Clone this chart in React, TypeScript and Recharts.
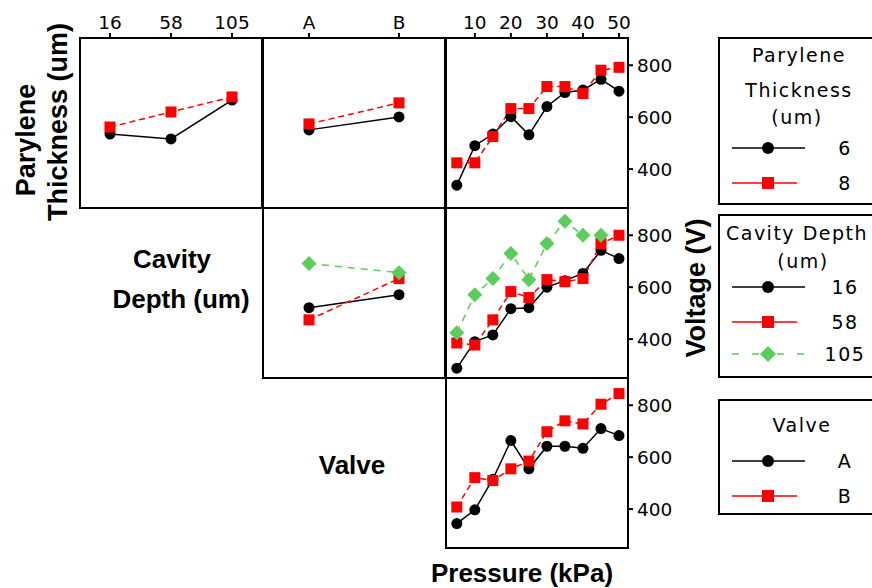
import React from 'react'
import { LineChart, Line, XAxis, YAxis } from 'recharts'

const depthLevels = ['16', '58', '105']
const valveLevels = ['A', 'B']
const pressureLevels = [5, 10, 15, 20, 25, 30, 35, 40, 45, 50]
const pressureTicks = [10, 20, 30, 40, 50]
const voltageTicks = [400, 600, 800]

// parylene thickness 6 / 8 um
const thick6VsDepth = [535, 516, 666]
const thick8VsDepth = [562, 620, 678]
const thick6VsValve = [551, 601]
const thick8VsValve = [574, 655]
const thick6VsPressure = [338, 490, 535, 602, 532, 641, 695, 705, 746, 700]
const thick8VsPressure = [424, 424, 525, 633, 633, 718, 718, 691, 781, 792]

// cavity depth 16 / 58 / 105 um
const depth16VsValve = [521, 571]
const depth58VsValve = [474, 633]
const depth105VsValve = [691, 656]
const depth16VsPressure = [288, 390, 416, 517, 521, 600, 625, 653, 742, 710]
const depth58VsPressure = [385, 377, 474, 583, 560, 629, 621, 633, 768, 800]
const depth105VsPressure = [424, 571, 633, 730, 629, 768, 854, 800, 800, null]

// valve A / B
const valveAVsPressure = [344, 397, 515, 664, 555, 642, 642, 634, 710, 683]
const valveBVsPressure = [408, 521, 510, 555, 585, 698, 740, 728, 804, 845]

const COLX = [80, 263, 446]
const ROWY = [38, 208, 378]
const PW = 182
const PH = 170
const RED = '#ff0000'
const GREEN = '#5ccc5c'
const tickFont = { fontFamily: 'DejaVu Sans', fontSize: 18.5, fill: '#000' }
const boldFont = 'Liberation Sans'

function rows(keys: (string | number)[], series: Record<string, (number | null)[]>) {
  return keys.map((k, i) => {
    const row: any = { k }
    Object.keys(series).forEach((name) => {
      row[name] = series[name][i]
    })
    return row
  })
}

const circleDot = (p: any) =>
  p.cx == null || p.cy == null || p.value == null ? (
    <g key={`c${p.index}`} />
  ) : (
    <circle key={`c${p.index}`} cx={p.cx} cy={p.cy} r={5.5} fill="#000" />
  )

const squareDot = (p: any) =>
  p.cx == null || p.cy == null || p.value == null ? (
    <g key={`s${p.index}`} />
  ) : (
    <rect key={`s${p.index}`} x={p.cx - 5.5} y={p.cy - 5.5} width={11} height={11} fill={RED} />
  )

const diamondDot = (p: any) =>
  p.cx == null || p.cy == null || p.value == null ? (
    <g key={`d${p.index}`} />
  ) : (
    <path
      key={`d${p.index}`}
      d={`M${p.cx},${p.cy - 7.5}L${p.cx + 7.5},${p.cy}L${p.cx},${p.cy + 7.5}L${p.cx - 7.5},${p.cy}Z`}
      fill={GREEN}
    />
  )

const lineStyles: Record<string, any> = {
  black: { stroke: '#000', dot: circleDot },
  red: { stroke: RED, dot: squareDot, strokeDasharray: '6 4' },
  green: { stroke: GREEN, dot: diamondDot, strokeDasharray: '7 6' },
}

type Kind = 'depth' | 'valve' | 'pressure'

function Panel({
  col,
  row,
  kind,
  data,
  series,
  showTop,
  showRight,
}: {
  col: number
  row: number
  kind: Kind
  data: any[]
  series: string[]
  showTop?: boolean
  showRight?: boolean
}) {
  const w = PW + (showRight ? 60 : 0)
  const h = PH + (showTop ? 30 : 0)
  const padding =
    kind === 'depth' ? { left: 30, right: 30 } : kind === 'valve' ? { left: 46, right: 46 } : { left: 0, right: 0 }
  return (
    <>
      <div
        style={{
          position: 'absolute',
          left: COLX[col] - 1,
          top: ROWY[row] - 1,
          width: PW + 2,
          height: PH + 2,
          border: '2px solid #000',
          boxSizing: 'border-box',
        }}
      />
      <div style={{ position: 'absolute', left: COLX[col], top: ROWY[row] - (showTop ? 30 : 0) }}>
        <LineChart width={w} height={h} data={data} margin={{ top: 0, right: 0, bottom: 0, left: 0 }}>
          <XAxis
            dataKey="k"
            type={kind === 'pressure' ? 'number' : 'category'}
            domain={kind === 'pressure' ? [2, 52.5] : undefined}
            ticks={kind === 'pressure' ? pressureTicks : undefined}
            allowDataOverflow={kind === 'pressure'}
            padding={padding}
            orientation="top"
            hide={!showTop}
            height={30}
            axisLine={false}
            tickLine={{ stroke: '#000', strokeWidth: 2 }}
            tickSize={5}
            tickMargin={4}
            interval={0}
            tick={tickFont}
          />
          <YAxis
            type="number"
            domain={[250, 905]}
            allowDataOverflow
            orientation="right"
            hide={!showRight}
            width={60}
            ticks={voltageTicks}
            axisLine={false}
            tickLine={{ stroke: '#000', strokeWidth: 2 }}
            tickSize={5}
            tickMargin={4}
            interval={0}
            tick={tickFont}
          />
          {series.map((name) => {
            const st = lineStyles[name]
            return (
              <Line
                key={name}
                dataKey={name}
                type="linear"
                stroke={st.stroke}
                strokeWidth={1.5}
                strokeDasharray={st.strokeDasharray}
                dot={st.dot}
                activeDot={false}
                isAnimationActive={false}
              />
            )
          })}
        </LineChart>
      </div>
    </>
  )
}

function LegendEntry({ y, style, label }: { y: number; style: string; label: string }) {
  let line = null
  let marker = null
  if (style === 'black') {
    line = <line x1={732} x2={805} y1={y} y2={y} stroke="#000" strokeWidth={1.5} />
    marker = <circle cx={768} cy={y} r={6} fill="#000" />
  } else if (style === 'red') {
    line = <line x1={732} x2={797} y1={y} y2={y} stroke={RED} strokeWidth={1.5} />
    marker = <rect x={762} y={y - 6} width={12} height={12} fill={RED} />
  } else {
    line = (
      <path
        d={`M732,${y}H739M752,${y}H759M777,${y}H784M797,${y}H804`}
        stroke={GREEN}
        strokeWidth={1.5}
      />
    )
    marker = <path d={`M768,${y - 8}L776,${y}L768,${y + 8}L760,${y}Z`} fill={GREEN} />
  }
  return (
    <g>
      {line}
      {marker}
      <text x={845} y={y + 6.5} textAnchor="middle" fontFamily="DejaVu Sans" fontSize={19} letterSpacing={1.5}>
        {label}
      </text>
    </g>
  )
}

function LegendTitle({ x, y, text }: { x: number; y: number; text: string }) {
  return (
    <text x={x} y={y} textAnchor="middle" fontFamily="DejaVu Sans" fontSize={19} letterSpacing={1.5}>
      {text}
    </text>
  )
}

export default function App() {
  const thickDepth = rows(depthLevels, { black: thick6VsDepth, red: thick8VsDepth })
  const thickValve = rows(valveLevels, { black: thick6VsValve, red: thick8VsValve })
  const thickPressure = rows(pressureLevels, { black: thick6VsPressure, red: thick8VsPressure })
  const depthValve = rows(valveLevels, { black: depth16VsValve, red: depth58VsValve, green: depth105VsValve })
  const depthPressure = rows(pressureLevels, {
    black: depth16VsPressure,
    red: depth58VsPressure,
    green: depth105VsPressure,
  })
  const valvePressure = rows(pressureLevels, { black: valveAVsPressure, red: valveBVsPressure })

  return (
    <div
      style={{
        position: 'absolute',
        left: 0,
        top: 0,
        width: 872,
        height: 588,
        overflow: 'hidden',
        background: '#fff',
      }}
    >
      <Panel col={0} row={0} kind="depth" data={thickDepth} series={['black', 'red']} showTop />
      <Panel col={1} row={0} kind="valve" data={thickValve} series={['black', 'red']} showTop />
      <Panel col={2} row={0} kind="pressure" data={thickPressure} series={['black', 'red']} showTop showRight />
      <Panel col={1} row={1} kind="valve" data={depthValve} series={['black', 'red', 'green']} />
      <Panel col={2} row={1} kind="pressure" data={depthPressure} series={['black', 'red', 'green']} showRight />
      <Panel col={2} row={2} kind="pressure" data={valvePressure} series={['black', 'red']} showRight />

      <svg
        width={872}
        height={588}
        style={{ position: 'absolute', left: 0, top: 0, pointerEvents: 'none' }}
      >
        <g fontFamily={boldFont} fontWeight="bold" fill="#000">
          <text x={35} y={140} transform="rotate(-90 35 140)" textAnchor="middle" fontSize={27}>
            Parylene
          </text>
          <text x={67} y={122} transform="rotate(-90 67 122)" textAnchor="middle" fontSize={27}>
            Thickness (um)
          </text>
          <text x={705} y={288} transform="rotate(-90 705 288)" textAnchor="middle" fontSize={27}>
            Voltage (V)
          </text>
          <text x={172} y={268} textAnchor="middle" fontSize={26}>
            Cavity
          </text>
          <text x={181} y={308} textAnchor="middle" fontSize={26}>
            Depth (um)
          </text>
          <text x={352} y={474} textAnchor="middle" fontSize={26}>
            Valve
          </text>
          <text x={522} y={582} textAnchor="middle" fontSize={26}>
            Pressure (kPa)
          </text>
        </g>

        <rect x={719} y={38} width={170} height={166} fill="none" stroke="#000" strokeWidth={2} />
        <LegendTitle x={799} y={62} text="Parylene" />
        <LegendTitle x={799} y={97} text="Thickness" />
        <LegendTitle x={797} y={124} text="(um)" />
        <LegendEntry y={148} style="black" label="6" />
        <LegendEntry y={183} style="red" label="8" />

        <rect x={719} y={215} width={170} height={162} fill="none" stroke="#000" strokeWidth={2} />
        <LegendTitle x={797} y={240} text="Cavity Depth" />
        <LegendTitle x={803} y={268} text="(um)" />
        <LegendEntry y={287} style="black" label="16" />
        <LegendEntry y={322} style="red" label="58" />
        <LegendEntry y={354} style="green" label="105" />

        <rect x={719} y={400} width={170} height={114} fill="none" stroke="#000" strokeWidth={2} />
        <LegendTitle x={802} y={432} text="Valve" />
        <LegendEntry y={461} style="black" label="A" />
        <LegendEntry y={496} style="red" label="B" />
      </svg>
    </div>
  )
}
